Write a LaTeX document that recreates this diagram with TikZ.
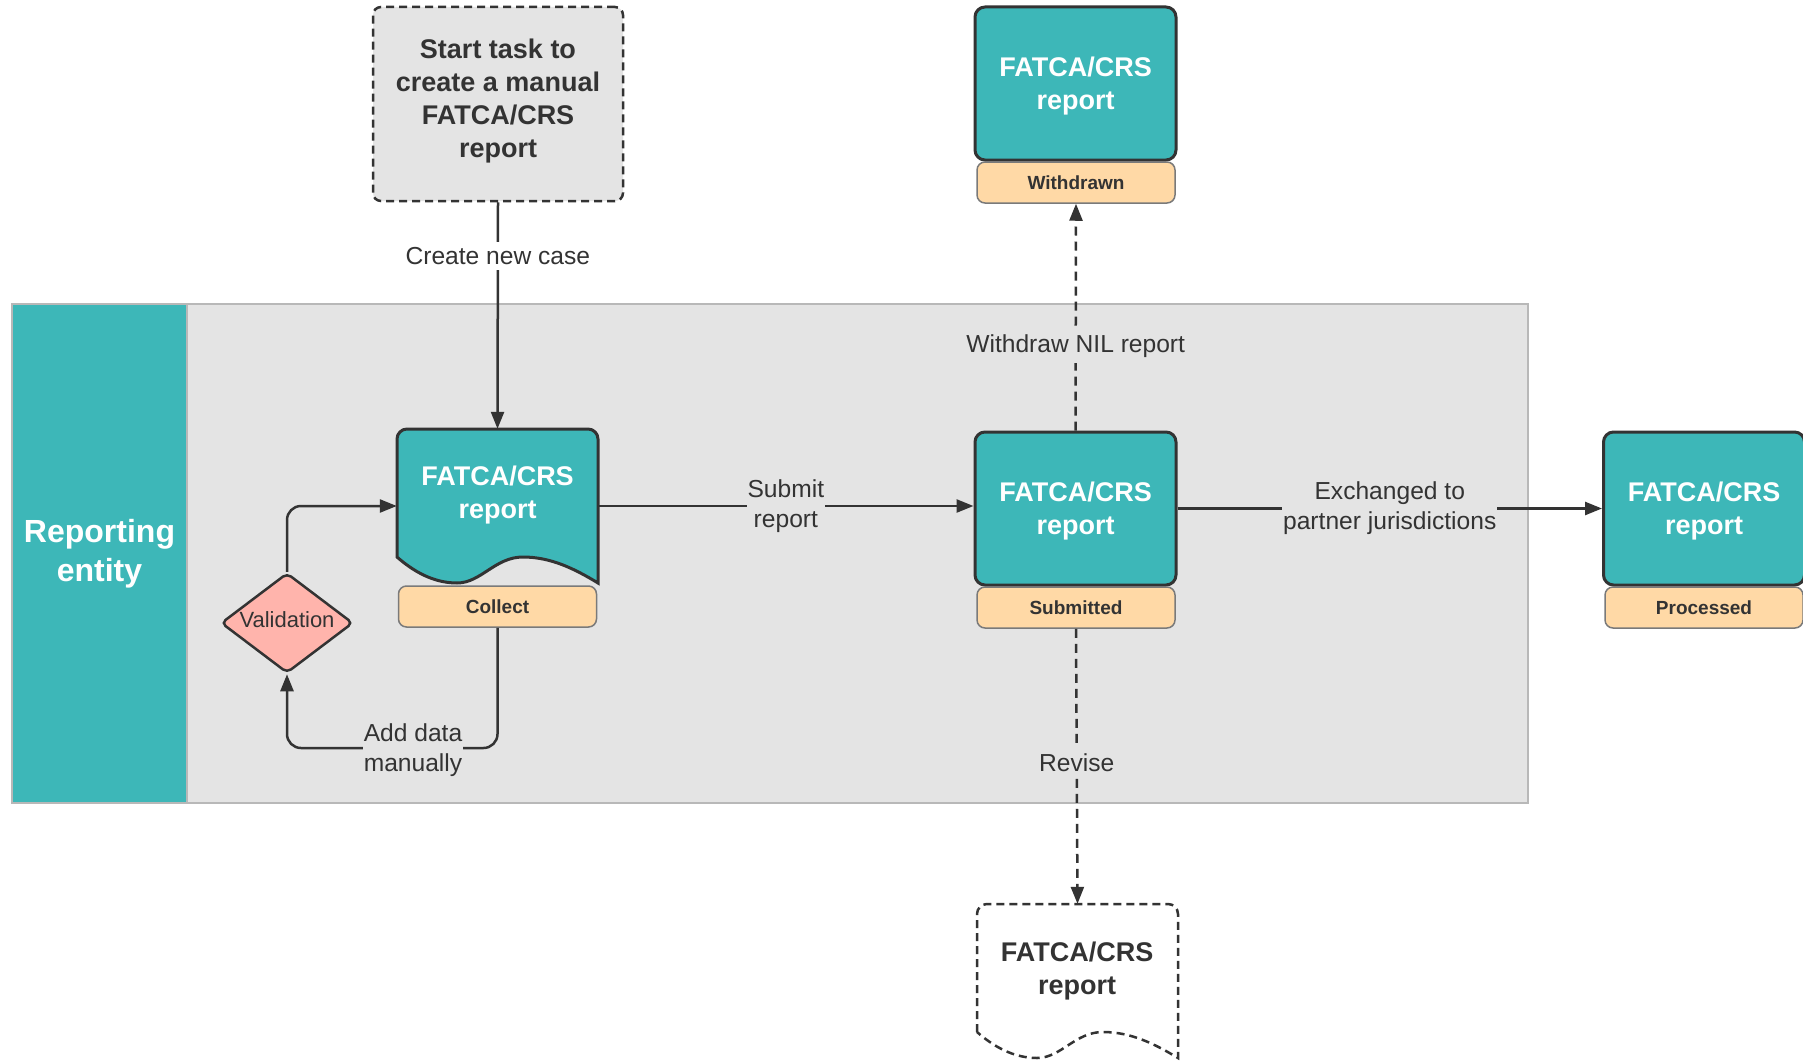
\documentclass[tikz,border=0pt]{standalone}
\usepackage{fontspec}
\setmainfont{Liberation Sans}
\usetikzlibrary{arrows.meta,shapes.geometric,calc}

\definecolor{ink}{HTML}{333333}
\definecolor{fatcateal}{HTML}{3DB7B8}
\definecolor{lanegray}{HTML}{E4E4E4}
\definecolor{laneline}{HTML}{B8B8B8}
\definecolor{peach}{HTML}{FFD9A6}
\definecolor{tagline}{HTML}{7A7A7A}
\definecolor{salmon}{HTML}{FFB4AC}

\tikzset{
  conn/.style={draw=ink, line width=2.5pt, -{Triangle[length=17pt,width=13pt]}},
  dconn/.style={conn, dash pattern=on 9pt off 6pt},
  elabel/.style={text=ink, font=\fontsize{24.6}{30}\selectfont, align=center,
    inner xsep=1pt, inner ysep=5pt},
  reportbox/.style={rectangle, rounded corners=10pt, draw=ink, line width=3pt,
    fill=fatcateal, minimum width=201pt, minimum height=153pt, inner sep=0pt},
  boxtext/.style={font=\bfseries\fontsize{27}{33}\selectfont, align=center, inner sep=0pt},
  statetag/.style={rectangle, rounded corners=8pt, draw=tagline, line width=1.5pt,
    fill=peach, minimum width=198pt, minimum height=41pt, inner sep=0pt,
    text=ink, font=\bfseries\fontsize{19}{23}\selectfont},
  anchorbox/.style={rectangle, inner sep=0pt, minimum width=201pt, minimum height=154pt},
  docshape/.pic={
    \path[pic actions] (0,128) -- (0,10) .. controls (0,4.5) and (4.5,0) .. (10,0)
      -- (191,0) .. controls (196.5,0) and (201,4.5) .. (201,10) -- (201,154)
      .. controls (178,140) and (154,128) .. (126,128)
      .. controls (98,128) and (84,154) .. (60,154)
      .. controls (36,154) and (16,142) .. (0,128) -- cycle;
  },
}

\begin{document}
\begin{tikzpicture}[x=1pt, y=-1pt]
\useasboundingbox (0,0) rectangle (1803,1062);
\fill[white] (0,0) rectangle (1803,1062);

% swimlane
\node[rectangle, draw=laneline, line width=2pt, fill=lanegray, inner sep=0pt,
  minimum width=1516pt, minimum height=499pt] (lane) at (770,553.5) {};
\node[rectangle, draw=laneline, line width=2pt, fill=fatcateal, inner sep=0pt,
  minimum width=175pt, minimum height=499pt] (lanehead) at (99.5,553.5) {};
\node[text=white, align=center, font=\bfseries\fontsize{32}{39}\selectfont]
  (laneheadtext) at (99.5,553.5) {Reporting\\entity};

% starting task
\node[rectangle, rounded corners=8pt, draw=ink, line width=2.5pt,
  dash pattern=on 8pt off 5pt, fill=lanegray, minimum width=250pt, minimum height=194pt]
  (start) at (498,104) {};
\node[text=ink, boxtext] (starttext) at (498,101)
  {Start task to\\create a manual\\FATCA/CRS\\report};

% report in collection
\pic[draw=ink, fill=fatcateal, line width=3pt] at (397,429) {docshape};
\node[anchorbox] (collect) at (497.5,506) {};
\node[boxtext, text=white] (collecttext) at (497.5,495) {FATCA/CRS\\report};
\node[statetag] (collectlbl) at (497.5,606.5) {Collect};

% validation step
\node[diamond, aspect=1.32, minimum width=132pt, minimum height=100pt, inner sep=0pt,
  draw=ink, line width=2.5pt, fill=salmon, rounded corners=5pt] (valid) at (287,623) {};
\node[text=ink, font=\fontsize{22}{26}\selectfont, inner sep=0pt] (validtext)
  at (287,620) {Validation};

% report states
\node[reportbox] (submitted) at (1075.5,508.5) {};
\node[boxtext, text=white] (submittedtext) at (1075.5,511) {FATCA/CRS\\report};
\node[statetag] (submittedlbl) at (1076,607.5) {Submitted};

\node[reportbox] (withdrawn) at (1075.5,83.5) {};
\node[boxtext, text=white] (withdrawntext) at (1075.5,86) {FATCA/CRS\\report};
\node[statetag] (withdrawnlbl) at (1076,182.5) {Withdrawn};

\node[reportbox] (processed) at (1704,508.5) {};
\node[boxtext, text=white] (processedtext) at (1704,511) {FATCA/CRS\\report};
\node[statetag] (processedlbl) at (1704,607.5) {Processed};

% revised report
\pic[draw=ink, line width=2.5pt, dash pattern=on 8pt off 5pt] at (977,904) {docshape};
\node[anchorbox] (bottomdoc) at (1077.5,981) {};
\node[boxtext, text=ink] (bottomtext) at (1077,971) {FATCA/CRS\\report};

% connectors
\draw[conn] (start.south) -- (collect.north)
  node[elabel, fill=white, pos=0.237] (lblcreate) {Create new case};
\draw[conn] (collect.east) -- (collect.east -| submitted.west)
  node[elabel, fill=lanegray, pos=0.5] (lblsubmit) {Submit\\report};
\draw[conn] (submitted.east) -- (processed.west)
  node[elabel, fill=lanegray, pos=0.5] (lblexchange) {Exchanged to\\partner jurisdictions};
\draw[dconn] (submitted.north) -- (withdrawnlbl.south)
  node[elabel, fill=lanegray, pos=0.37] (lblwithdraw) {Withdraw NIL report};
\draw[dconn] (submittedlbl.south) -- (bottomdoc.north)
  node[elabel, fill=lanegray, pos=0.486] (lblrevise) {Revise};

\coordinate (loopturn) at (287,748);
\draw[conn, rounded corners=14pt] (collectlbl.south) |- (loopturn) -- (valid.south);
\node[elabel, fill=lanegray] (lbladd) at (413,750) {Add data\\manually};
\draw[conn, rounded corners=14pt] (valid.north) |- (collect.west);
\end{tikzpicture}
\end{document}
